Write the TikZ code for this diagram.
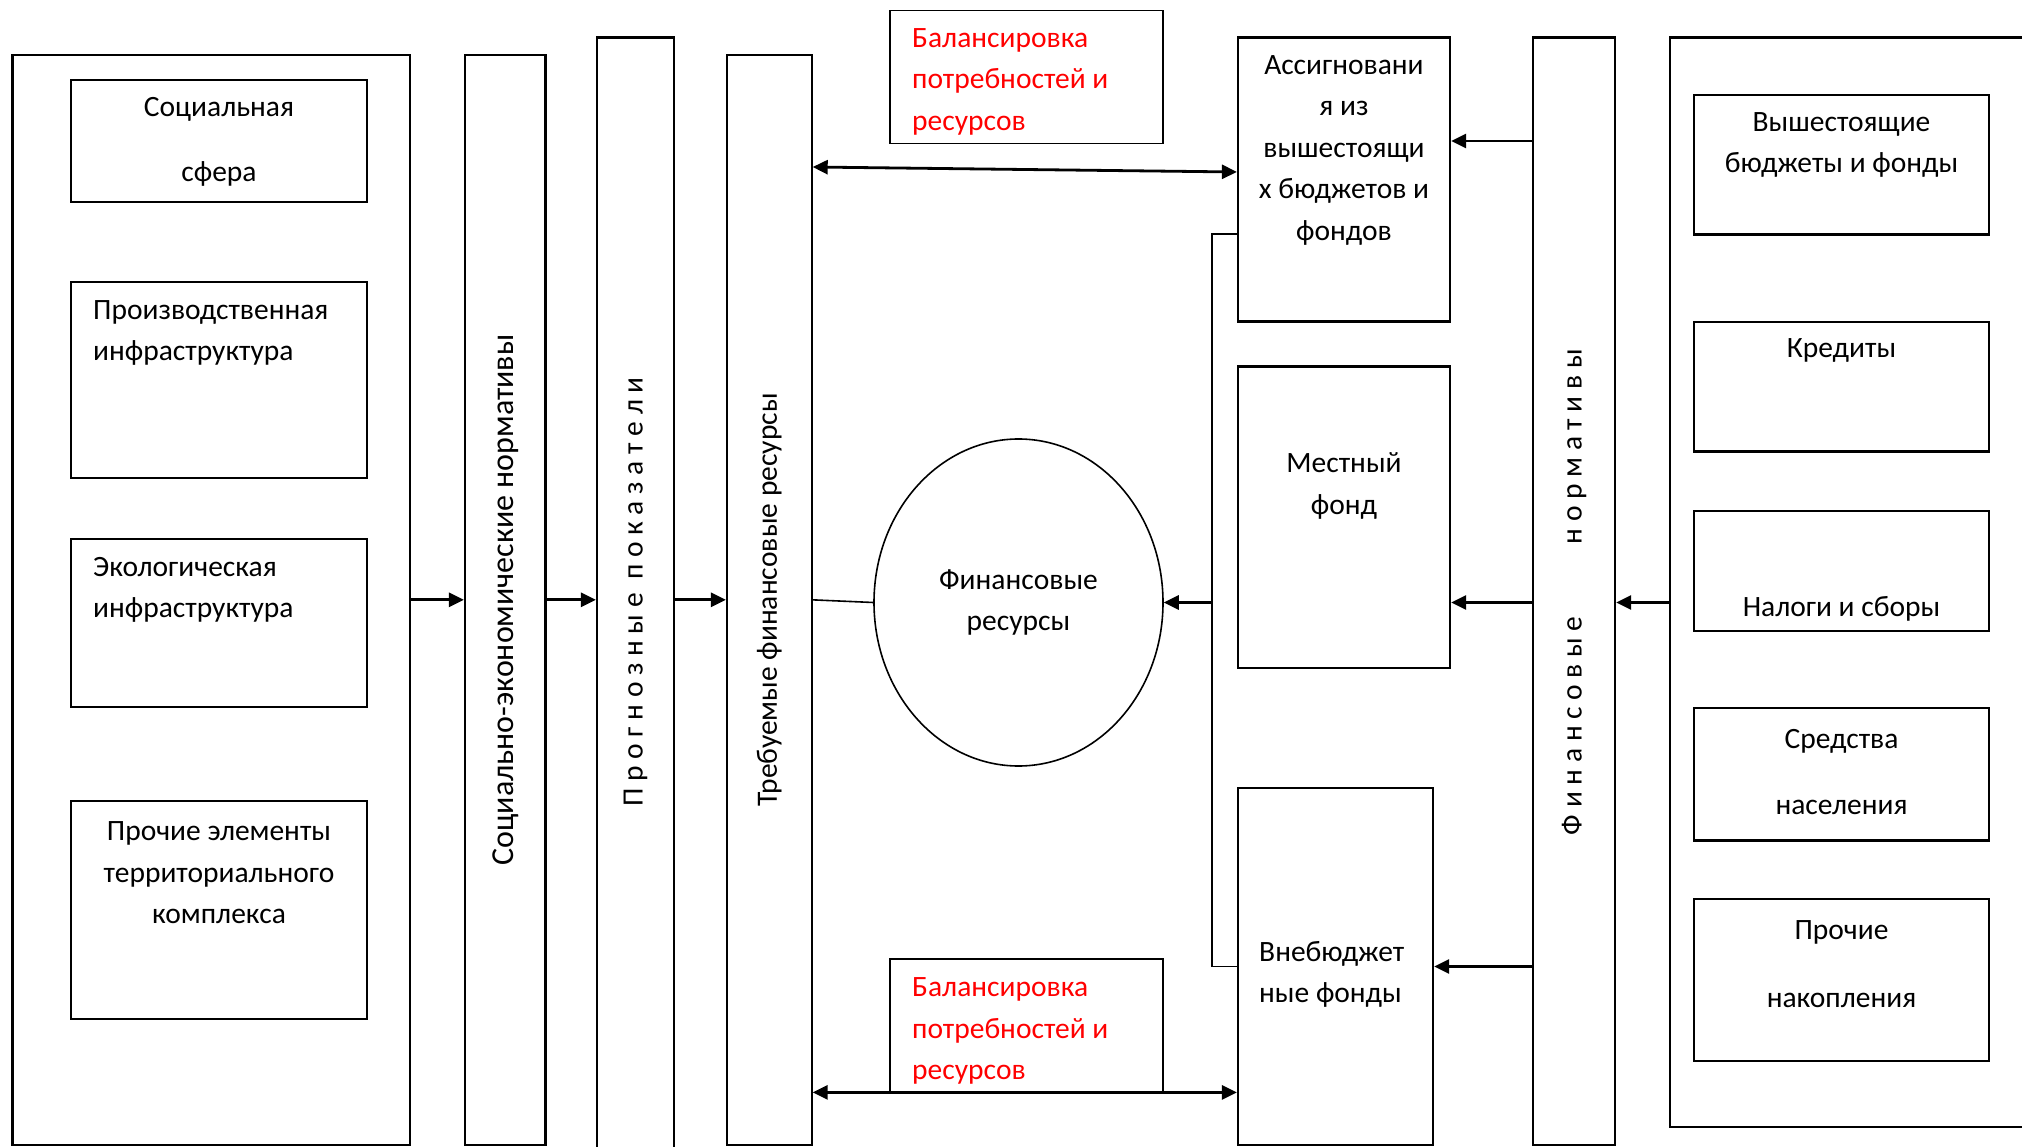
\documentclass[tikz,border=0pt]{standalone}
\usepackage{fontspec}
\setmainfont{Carlito}
\usetikzlibrary{arrows.meta,calc,shapes.geometric}

\tikzset{
  box/.style={draw, line width=2.2pt, inner sep=0pt},
  tip/.tip={Triangle[length=15pt,width=14pt]},
  arr/.style={line width=2.8pt, -tip},
  darr/.style={line width=2.8pt, tip-tip},
  txt/.style={font=\fontsize{29.5}{41.5}\selectfont, inner sep=0pt, align=center},
  ltxt/.style={txt, align=left, anchor=west},
  redtxt/.style={ltxt, text=red},
  vtxt/.style={txt, rotate=90},
}

\begin{document}
\begin{tikzpicture}[x=1pt,y=-1pt]
    \useasboundingbox (0,0) rectangle (2022,1147);
    % territory block
    \node[box, minimum width=397.5pt, minimum height=1090.3pt] (terr) at (211.25,599.85) {};
    \node[box, minimum width=296pt, minimum height=122pt] (soc) at (219,141) {};
    \node[box, minimum width=296pt, minimum height=196pt] (prod) at (219,380) {};
    \node[box, minimum width=296pt, minimum height=168pt] (eco) at (219,623) {};
    \node[box, minimum width=296pt, minimum height=218pt] (other) at (219,910) {};
    \node[txt] (socT) at (219,141.5) {Социальная\\[23.5pt]сфера};
    \node[ltxt] (prodT) at (93,333) {Производственная\\инфраструктура};
    \node[ltxt] (ecoT) at (93,590) {Экологическая\\инфраструктура};
    \node[txt] (otherT) at (219,873) {Прочие элементы\\территориального\\комплекса};
    % columns
    \node[box, minimum width=80.5pt, minimum height=1090.3pt] (norm) at (505.25,599.85) {};
    \node[box, minimum width=77pt, minimum height=1112.5pt] (prog) at (635.5,593.75) {};
    \node[box, minimum width=84.6pt, minimum height=1090.3pt] (need) at (769.3,599.85) {};
    \node[vtxt, font=\fontsize{32}{38}\selectfont] (normT) at (505.25,600) {Социально-экономические нормативы};
    \node[vtxt] (progT) at (635.5,592) {П р о г н о з н ы е \ п о к а з а т е л и};
    \node[vtxt] (needT) at (769.3,600) {Требуемые финансовые ресурсы};
    % balance boxes
    \node[box, line width=1.8pt, minimum width=273pt, minimum height=133pt] (bal1) at (1026.5,77) {};
    \node[box, line width=1.8pt, minimum width=273pt, minimum height=132.5pt] (bal2) at (1026.5,1025.25) {};
    \node[redtxt] (bal1T) at (912,81.5) {Балансировка\\потребностей и\\ресурсов};
    \node[redtxt] (bal2T) at (912,1031) {Балансировка\\потребностей и\\ресурсов};
    % financial resources
    \node[draw, ellipse, line width=1.6pt, inner sep=0pt, minimum width=289pt, minimum height=327pt, txt] (finres) at (1018.5,602.5) {Финансовые\\ресурсы};
    % funds
    \node[box, minimum width=212pt, minimum height=284pt] (assign) at (1344,179.5) {};
    \node[box, minimum width=212pt, minimum height=301.4pt] (local) at (1344,517.3) {};
    \node[box, minimum width=195pt, minimum height=357pt] (offbud) at (1335.5,966.5) {};
    \node[txt] (assignT) at (1344,150) {Ассигновани\\я из\\вышестоящи\\х бюджетов и\\фондов};
    \node[txt] (localT) at (1344,486) {Местный\\фонд};
    \node[ltxt] (offbudT) at (1259,974.5) {Внебюджет\\ные фонды};
    % financial norms
    \node[box, minimum width=82pt, minimum height=1107.5pt] (fin) at (1574,591.25) {};
    \node[vtxt] (finT) at (1574,592) {Ф и н а н с о в ы е\hspace{72pt}н о р м а т и в ы};
    % sources block
    \node[box, minimum width=370pt, minimum height=1089.5pt] (src) at (1855,582.25) {};
    \node[box, minimum width=295pt, minimum height=139.6pt] (upper) at (1841.5,164.8) {};
    \node[box, minimum width=295pt, minimum height=129.6pt] (cred) at (1841.5,386.8) {};
    \node[box, minimum width=295pt, minimum height=120pt] (tax) at (1841.5,571) {};
    \node[box, minimum width=295pt, minimum height=132.5pt] (pop) at (1841.5,774.25) {};
    \node[box, minimum width=295pt, minimum height=162pt] (sav) at (1841.5,980) {};
    \node[txt] (upperT) at (1841.5,145) {Вышестоящие\\бюджеты и фонды};
    \node[txt] (credT) at (1841.5,350) {Кредиты};
    \node[txt] (taxT) at (1841.5,609) {Налоги и сборы};
    \node[txt] (popT) at (1841.5,772) {Средства\\[25pt]населения};
    \node[txt] (savT) at (1841.5,964) {Прочие\\[26pt]накопления};
    % connectors
    \coordinate (busT) at ($(assign.west)+(-25,54.5)$);
    \coordinate (busB) at (busT |- offbud.west);
    \draw[arr] (terr.east) -- (norm.west);  % terr -- norm
    \draw[arr] (norm.east) -- (norm.east -| prog.west);  % norm -- prog
    \draw[arr] (norm.east -| prog.east) -- (norm.east -| need.west);  % prog -- need
    \draw[line width=1.6pt] (need.east) -- (finres.west);  % need -- finres
    \draw[darr] ($(need.east |- assign.west)+(0,-12.5)$) -- ($(assign.west)+(0,-7.5)$);  % need -- assign
    \draw[darr] (need.east |- bal2.south) -- (offbud.west |- bal2.south);  % need -- offbud
    \draw[line width=1.6pt] (assign.west |- busT) -- (busT) -- (busB) -- (offbud.west);  % assign -- offbud
    \draw[arr] (busT |- finres.east) -- (finres.east);  % bus -- finres
    \draw[arr] ($(fin.west |- assign.east)+(0,-38.5)$) -- ($(assign.east)+(0,-38.5)$);  % fin -- assign
    \draw[arr] (fin.west |- finres.east) -- (local.east |- finres.east);  % fin -- local
    \draw[arr] (fin.west |- offbud.east) -- (offbud.east);  % fin -- offbud
    \draw[arr] (src.west |- finres.east) -- (fin.east |- finres.east);  % src -- fin
\end{tikzpicture}
\end{document}
